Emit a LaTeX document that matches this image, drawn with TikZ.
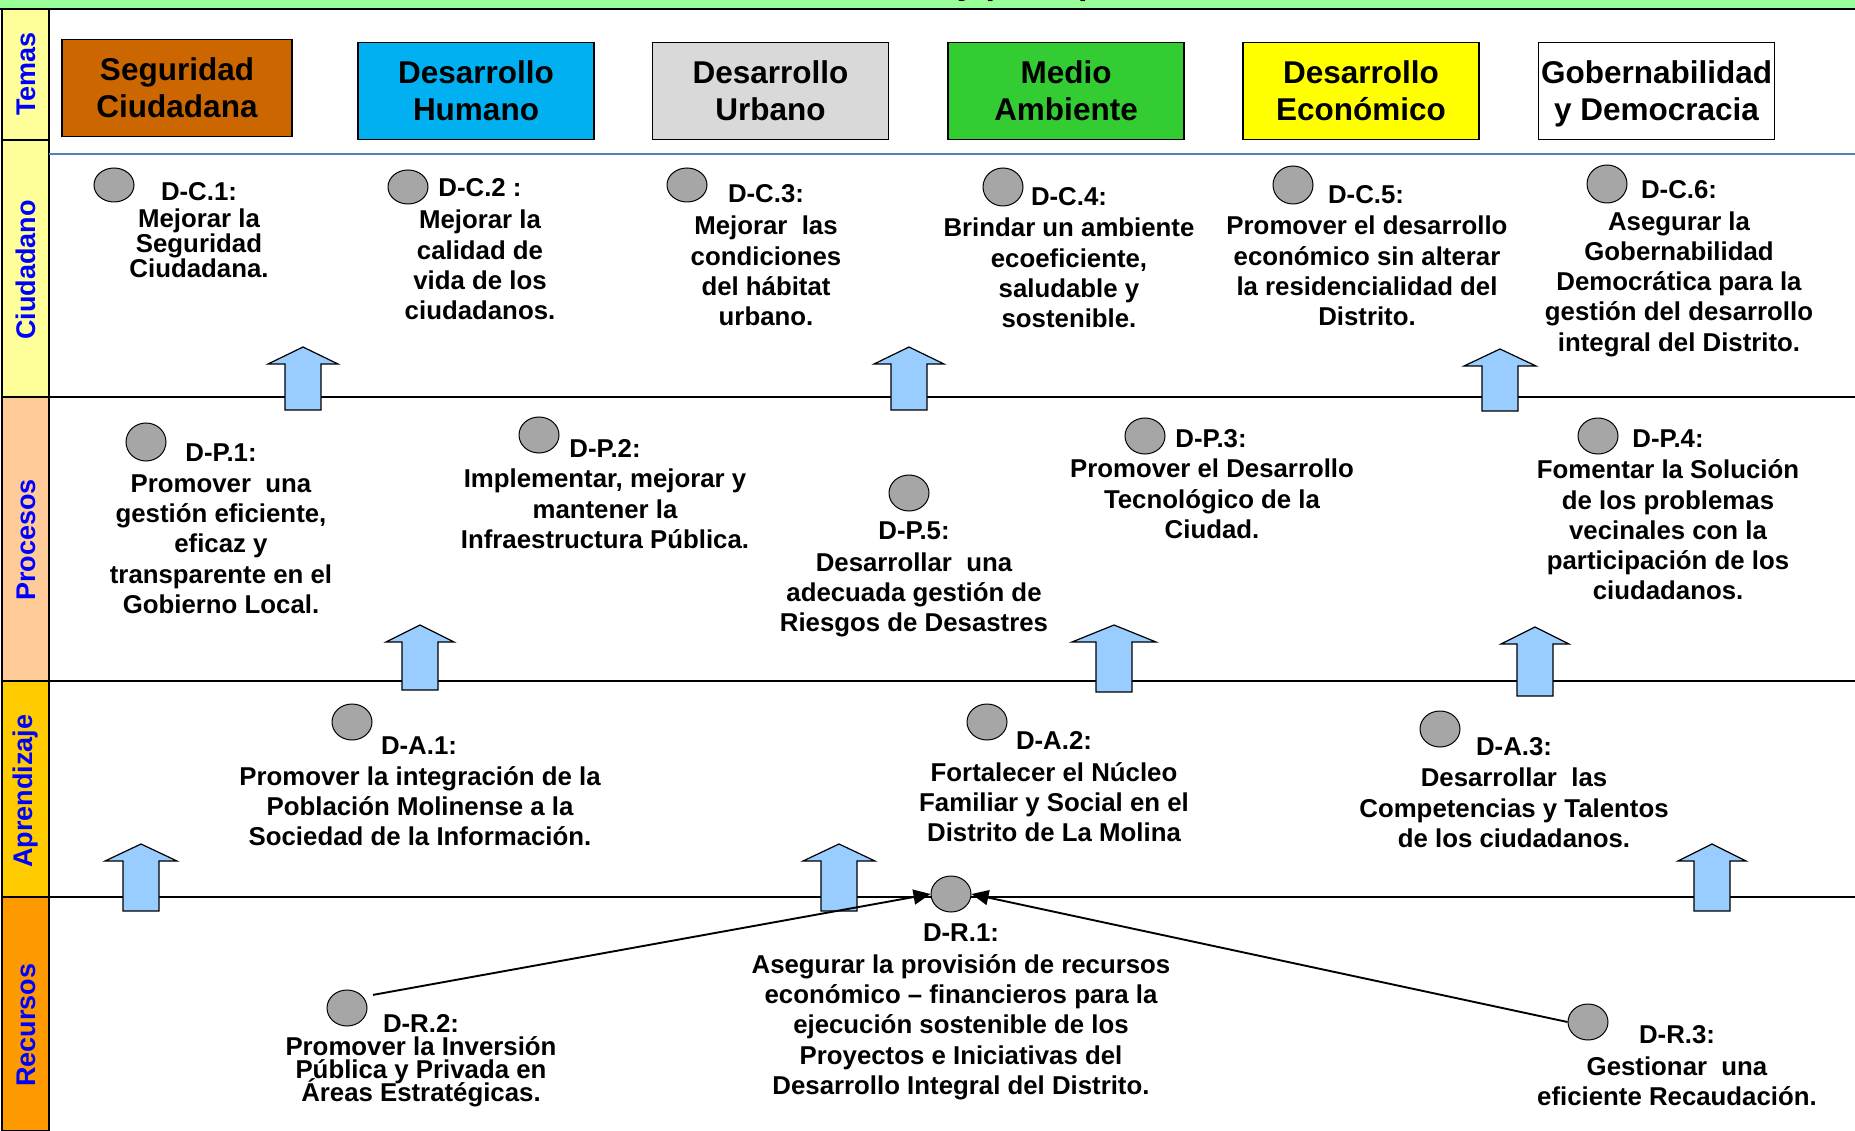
\documentclass[tikz,border=0pt]{standalone}
\usepackage{fontspec}
\setmainfont{Liberation Sans}
\usetikzlibrary{arrows.meta,shapes.geometric}
\lineskiplimit=-100pt
\definecolor{bandgreen}{RGB}{153,255,153}
\definecolor{lblblue}{RGB}{0,0,255}
\definecolor{coltemas}{RGB}{255,255,153}
\definecolor{colproc}{RGB}{255,204,153}
\definecolor{colapr}{RGB}{255,204,0}
\definecolor{colrec}{RGB}{255,153,0}
\definecolor{cseg}{RGB}{204,102,0}
\definecolor{chum}{RGB}{0,176,240}
\definecolor{curb}{RGB}{217,217,217}
\definecolor{cmed}{RGB}{51,204,51}
\definecolor{ceco}{RGB}{255,255,0}
\definecolor{cdisc}{RGB}{166,166,166}
\definecolor{carrow}{RGB}{153,204,255}
\definecolor{cline}{RGB}{79,129,189}
\tikzset{
  x=1pt,y=-1pt,
  vlabel/.style={rotate=90,text=lblblue,font=\fontsize{27}{27}\selectfont\bfseries,inner sep=0pt},
  tema/.style={draw=black,line width=1.3pt,minimum width=236pt,minimum height=97pt,inner sep=0pt,align=center,font=\fontsize{31.5}{37}\selectfont\bfseries,execute at begin node={\rule{0pt}{27pt}}},
  txt/.style={align=center,inner sep=0pt,font=\fontsize{25.8}{30.3}\selectfont\bfseries},
  tight/.style={align=center,inner sep=0pt,font=\fontsize{25.8}{25}\selectfont\bfseries},
  tighter/.style={align=center,inner sep=0pt,font=\fontsize{25.8}{23}\selectfont\bfseries},
  disc/.style={draw=black,line width=1pt,fill=cdisc,ellipse,inner sep=0pt,minimum width=40pt,minimum height=36pt},
  discs/.style={disc,minimum height=34pt},
  discl/.style={disc,minimum height=38pt},
  rule/.style={draw=black,line width=1.1pt},
  upa/.style={draw=black,line width=1.2pt,fill=carrow,line join=miter},
  link/.style={draw=black,line width=1.9pt,-{Triangle[length=17pt,width=15pt]}},
}
\newcommand{\uparr}[5]{%
  \draw[upa] (#1,#2) -- (#1+#5,#3) -- (#1+18,#3) -- (#1+18,#4) -- (#1-18,#4) -- (#1-18,#3) -- (#1-#5,#3) -- cycle;}
\begin{document}
\begin{tikzpicture}
\useasboundingbox (0,0) rectangle (1855,1131);
\fill[white] (0,0) rectangle (1855,1131);
% top band
\fill[bandgreen] (0,0) rectangle (1855,9);
\begin{scope}
\clip (0,0) rectangle (1855,9);
\node[font=\fontsize{34}{34}\selectfont\bfseries,inner sep=0pt,anchor=base west] (title) at (957,-5) {y principales};
\end{scope}
\draw[line width=1.4pt] (0,9) -- (1855,9);
% left columns
\draw[fill=coltemas,line width=1.2pt] (2,9) rectangle (49,140);
\draw[fill=coltemas,line width=1.2pt] (2,140) rectangle (49,397);
\draw[fill=colproc,line width=1.2pt] (2,397) rectangle (49,681);
\draw[fill=colapr,line width=1.2pt] (2,681) rectangle (49,897);
\draw[fill=colrec,line width=1.2pt] (2,897) rectangle (49,1131);
\node[vlabel] (l1) at (26,74) {Temas};
\node[vlabel] (l2) at (26,270) {Ciudadano};
\node[vlabel] (l3) at (26,540) {Procesos};
\node[vlabel] (l4) at (26,791) {Aprendizaje};
\node[vlabel] (l5) at (26,1025) {Recursos};
% rules
\draw[draw=cline,line width=1.3pt] (49,154) -- (1855,154);
\draw[rule] (49,397) -- (1855,397);
\draw[rule] (49,681) -- (1855,681);
\draw[rule] (49,897) -- (1855,897);
% temas
\node[tema,fill=cseg,minimum width=230pt] (t1) at (177,88) {Seguridad\\Ciudadana};
\node[tema,fill=chum] (t2) at (476,91) {Desarrollo\\Humano};
\node[tema,fill=curb] (t3) at (770.5,91) {Desarrollo\\Urbano};
\node[tema,fill=cmed] (t4) at (1066,91) {Medio\\Ambiente};
\node[tema,fill=ceco] (t5) at (1361,91) {Desarrollo\\Económico};
\node[tema,fill=white,text depth=0pt] (t6) at (1656.5,91) {Gobernabilidad\\y Democracia};
% arrows
\uparr{303}{347}{364}{410}{35}
\uparr{909}{347}{364}{410}{35}
\uparr{1500}{349}{366}{411}{36}
\uparr{420}{625}{642}{690}{34}
\uparr{1114}{625}{642}{692}{42}
\uparr{1535}{627}{644}{696}{34}
\uparr{141}{844}{861}{911}{36}
\uparr{839}{844}{861}{911}{36}
\uparr{1712}{844}{861}{911}{34}
% Ciudadano
\node[discs] (dc1) at (114,185) {};
\node[txt] (tc1a) at (199,192) {D-C.1:};
\node[tight] (tc1) at (199,243) {Mejorar la\\Seguridad\\Ciudadana.};
\node[discs] (dc2) at (408,187) {};
\node[txt] (tc2a) at (480,188) {D-C.2 :};
\node[txt] (tc2) at (480,265) {Mejorar la\\calidad de\\vida de los\\ciudadanos.};
\node[discs] (dc3) at (687,185) {};
\node[txt] (tc3a) at (766,194) {D-C.3:};
\node[txt] (tc3) at (766,271) {Mejorar~ las\\condiciones\\del hábitat\\urbano.};
\node[discl] (dc4) at (1003,187) {};
\node[txt] (tc4a) at (1069,197) {D-C.4:};
\node[txt] (tc4) at (1069,273) {Brindar un ambiente\\ecoeficiente,\\saludable y\\sostenible.};
\node[discl] (dc5) at (1293,185) {};
\node[txt] (tc5a) at (1366,195) {D-C.5:};
\node[txt] (tc5) at (1367,271) {Promover el desarrollo\\económico sin alterar\\la residencialidad del\\Distrito.};
\node[discl] (dc6) at (1607,184) {};
\node[txt] (tc6a) at (1679,190) {D-C.6:};
\node[txt] (tc6) at (1679,284) {Asegurar la\\Gobernabilidad\\Democrática para la\\gestión del desarrollo\\integral del Distrito.};
% Procesos
\node[discl] (dp1) at (146,442) {};
\node[txt] (tp1a) at (221,453) {D-P.1:};
\node[txt] (tp1) at (221,544) {Promover~ una\\gestión eficiente,\\eficaz y\\transparente en el\\Gobierno Local.};
\node[disc] (dp2) at (539,435) {};
\node[txt] (tp2a) at (605,448) {D-P.2:};
\node[txt] (tp2) at (605,509) {Implementar, mejorar y\\mantener la\\Infraestructura Pública.};
\node[disc] (dp5) at (909,493) {};
\node[txt] (tp5a) at (914,531) {D-P.5:};
\node[txt] (tp5) at (914,595) {Desarrollar~ una\\adecuada gestión de\\Riesgos de Desastres};
\node[disc] (dp3) at (1145,436) {};
\node[txt] (tp3a) at (1211,439) {D-P.3:};
\node[txt] (tp3) at (1212,499) {Promover el Desarrollo\\Tecnológico de la\\Ciudad.};
\node[disc] (dp4) at (1598,436) {};
\node[txt] (tp4a) at (1668,439) {D-P.4:};
\node[txt] (tp4) at (1668,530) {Fomentar la Solución\\de los problemas\\vecinales con la\\participación de los\\ciudadanos.};
% Aprendizaje
\node[disc] (da1) at (352,722) {};
\node[txt] (ta1a) at (419,746) {D-A.1:};
\node[txt] (ta1) at (420,806) {Promover la integración de la\\Población Molinense a la\\Sociedad de la Información.};
\node[disc] (da2) at (987,722) {};
\node[txt] (ta2a) at (1054,740) {D-A.2:};
\node[txt] (ta2) at (1054,802) {Fortalecer el Núcleo\\Familiar y Social en el\\Distrito de La Molina};
\node[disc] (da3) at (1440,729) {};
\node[txt] (ta3a) at (1514,747) {D-A.3:};
\node[txt] (ta3) at (1514,808) {Desarrollar~ las\\Competencias y Talentos\\de los ciudadanos.};
% Recursos
\node[disc] (dr1) at (951,894) {};
\node[txt] (tr1a) at (961,933) {D-R.1:};
\node[txt] (tr1) at (961,1027) {Asegurar la provisión de recursos\\económico – financieros para la\\ejecución sostenible de los\\Proyectos e Iniciativas del\\Desarrollo Integral del Distrito.};
\node[disc] (dr2) at (347,1008) {};
\node[txt] (tr2a) at (421,1023) {D-R.2:};
\node[tighter] (tr2) at (421,1072) {Promover la Inversión\\Pública y Privada en\\Áreas Estratégicas.};
\node[disc] (dr3) at (1588,1022) {};
\node[txt] (tr3a) at (1677,1035) {D-R.3:};
\node[txt] (tr3) at (1677,1081) {Gestionar~ una\\eficiente Recaudación.};
\draw[link,shorten <=10pt] (dr2.35) -- (dr1.west);
\draw[link] (dr3.west) -- (dr1.east);
\end{tikzpicture}
\end{document}
